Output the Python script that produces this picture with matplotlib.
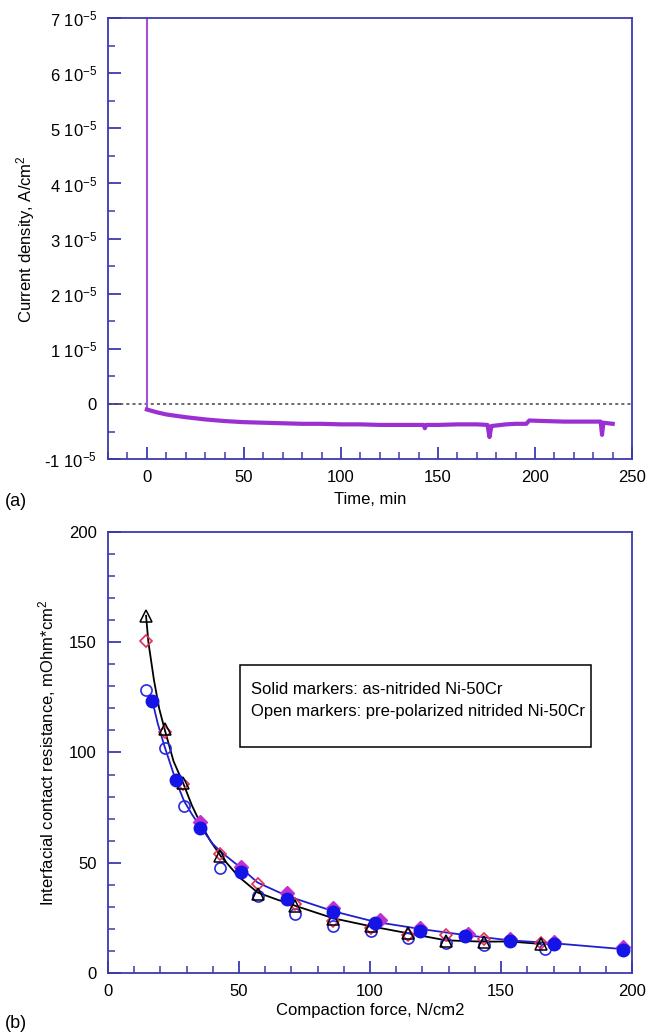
import numpy as np
import matplotlib.pyplot as plt
from matplotlib.ticker import MultipleLocator
from matplotlib.patches import Rectangle

plt.rcParams['font.family'] = ['Liberation Sans', 'DejaVu Sans']
plt.rcParams['mathtext.default'] = 'regular'

# (a) current density trace, values in units of 1e-5 A/cm2
time_min = [0, 0, 5, 10, 20, 30, 40, 50, 60, 70, 80, 90, 100, 110, 120, 130, 140,
            142.5, 143.2, 144, 150, 160, 170, 175.5, 176.5, 177.5, 185, 190, 195.5, 197,
            205, 215, 225, 233.8, 234.5, 235.2, 240]
current = [7.0, -0.10, -0.15, -0.19, -0.24, -0.28, -0.31, -0.33, -0.34, -0.35, -0.36,
           -0.36, -0.37, -0.37, -0.38, -0.38, -0.38, -0.38, -0.44, -0.38, -0.38, -0.37,
           -0.37, -0.38, -0.60, -0.40, -0.37, -0.36, -0.36, -0.30, -0.31, -0.32,
           -0.32, -0.32, -0.56, -0.34, -0.36]

# (b) interfacial contact resistance vs compaction force
tri_x = [14.5, 21.6, 28.7, 42.9, 57.1, 71.4, 86.0, 100.2, 114.6, 129.0, 143.5, 165.1]
tri_y = [162.0, 110.5, 86.0, 53.0, 35.6, 30.5, 24.5, 21.5, 18.0, 14.5, 14.0, 13.2]
odia_x = [14.5, 21.6, 28.7, 42.9, 57.1, 71.4, 86.0, 100.2, 114.6, 129.0, 143.5, 165.1]
odia_y = [150.4, 109.5, 85.5, 54.0, 40.2, 31.3, 23.5, 20.3, 17.3, 17.2, 15.2, 13.5]
ocir_x = [14.5, 21.6, 29.1, 42.9, 57.1, 71.4, 86.0, 100.2, 114.6, 129.0, 143.5, 166.7]
ocir_y = [128.3, 101.9, 75.7, 47.5, 35.0, 26.6, 21.5, 19.0, 15.7, 13.5, 12.7, 10.7]
fcir_x = [16.9, 25.8, 35.1, 50.9, 68.2, 86.0, 101.9, 119.0, 136.3, 153.4, 170.0, 196.7]
fcir_y = [123.4, 87.5, 65.6, 45.9, 33.5, 27.5, 22.6, 19.2, 16.9, 14.4, 13.2, 10.4]
fdia_x = [35.1, 50.9, 68.2, 86.0, 103.6, 119.0, 137.5, 153.4, 170.0, 196.7]
fdia_y = [68.6, 47.9, 36.1, 29.3, 24.0, 20.5, 17.7, 15.6, 14.2, 11.9]

# fitted curves
black_x = [14.5, 15.4, 17.5, 19.5, 21.6, 25.0, 28.7, 32.0, 35.0, 39.0, 43.0, 50.0,
           57.1, 64.0, 71.4, 86.0, 100.2, 114.6, 129.0, 143.5, 153.0, 165.1]
black_y = [162.0, 150.0, 133.0, 120.0, 110.5, 96.0, 86.0, 76.0, 68.5, 60.0, 53.0,
           43.5, 36.5, 33.5, 30.5, 24.8, 21.2, 18.0, 14.8, 14.2, 14.3, 13.2]
blue_x = [16.9, 19.0, 21.5, 25.8, 29.0, 32.0, 35.1, 40.0, 43.0, 50.9, 57.1, 68.2,
          86.0, 101.9, 119.0, 136.3, 153.4, 170.0, 196.7]
blue_y = [123.4, 113.0, 103.0, 87.5, 78.0, 72.0, 66.5, 58.5, 55.0, 47.5, 41.0, 35.0,
          28.0, 23.2, 20.0, 17.2, 14.8, 13.5, 10.8]

spine_col = '#3a3aae'
fs = 12

fig = plt.figure(figsize=(6.47, 10.34), dpi=100)
ax1 = fig.add_axes([0.167, 0.556, 0.810, 0.4265])
ax2 = fig.add_axes([0.167, 0.059, 0.810, 0.4265])


def style(ax):
    for s in ax.spines.values():
        s.set_color(spine_col)
        s.set_linewidth(1.3)
    ax.tick_params(which='both', direction='in', color=spine_col, labelsize=fs,
                   top=False, right=False, pad=8)
    ax.tick_params(which='major', length=9, width=1.3)
    ax.tick_params(which='minor', length=5, width=1.1)


# ---- (a)
style(ax1)
ax1.axhline(0, color='#444444', lw=1.1, ls=(0, (2, 2)))
t = np.array(time_min)
c = np.array(current) * 1e-5
ax1.plot(t[:2], c[:2], color='#a550d6', lw=1.5)
ax1.plot(t[1:], c[1:], color='#9a2fd2', lw=3.0, solid_joinstyle='round')
ax1.set_xlim(-20, 250)
ax1.set_ylim(-1e-5, 7e-5)
ax1.xaxis.set_major_locator(MultipleLocator(50))
ax1.xaxis.set_minor_locator(MultipleLocator(10))
ax1.yaxis.set_major_locator(MultipleLocator(1e-5))
ax1.yaxis.set_minor_locator(MultipleLocator(0.5e-5))
ylabs = []
for v in range(-1, 8):
    ylabs.append('0' if v == 0 else '%d 10$^{-5}$' % v)
ax1.set_yticks([v * 1e-5 for v in range(-1, 8)])
ax1.set_yticklabels(ylabs)
ax1.set_xlabel('Time, min', fontsize=fs, labelpad=5)
ax1.set_ylabel('Current density, A/cm$^2$', fontsize=fs, labelpad=5)
fig.text(0.008, 0.511, '(a)', fontsize=13)

# ---- (b)
style(ax2)
ax2.plot(black_x, black_y, color='black', lw=1.3, zorder=2)
ax2.plot(blue_x, blue_y, color='#1f1fd0', lw=1.3, zorder=2)
ax2.plot(ocir_x, ocir_y, 'o', ms=8, mfc='none', mec='#2a2ae0', mew=1.2, zorder=3)
ax2.plot(odia_x, odia_y, 'D', ms=6, mfc='none', mec='#e0305a', mew=1.2, zorder=3)
ax2.plot(tri_x, tri_y, '^', ms=8, mfc='none', mec='black', mew=1.1, zorder=4)
ax2.plot(fdia_x, fdia_y, 'D', ms=7, mfc='#c030d0', mec='#c030d0', zorder=4)
ax2.plot(fcir_x, fcir_y, 'o', ms=9, mfc='#1414e6', mec='#1414e6', zorder=5)
ax2.set_xlim(0, 200)
ax2.set_ylim(0, 200)
ax2.xaxis.set_major_locator(MultipleLocator(50))
ax2.xaxis.set_minor_locator(MultipleLocator(10))
ax2.yaxis.set_major_locator(MultipleLocator(50))
ax2.yaxis.set_minor_locator(MultipleLocator(10))
ax2.set_xlabel('Compaction force, N/cm2', fontsize=fs, labelpad=3)
ax2.set_ylabel('Interfacial contact resistance, mOhm*cm$^2$', fontsize=fs, labelpad=8)
ax2.add_patch(Rectangle((0.252, 0.512), 0.670, 0.186, transform=ax2.transAxes,
                        fill=False, ec='black', lw=1.1, zorder=6))
ax2.text(0.273, 0.642, 'Solid markers: as-nitrided Ni-50Cr', transform=ax2.transAxes,
         fontsize=12, va='center')
ax2.text(0.273, 0.592, 'Open markers: pre-polarized nitrided Ni-50Cr',
         transform=ax2.transAxes, fontsize=12, va='center')
fig.text(0.008, 0.006, '(b)', fontsize=13)

fig.savefig('out.png', dpi=100)
